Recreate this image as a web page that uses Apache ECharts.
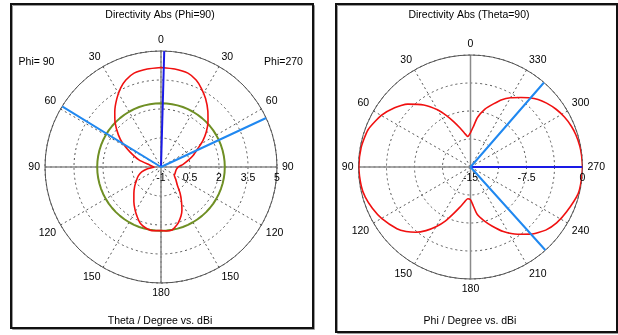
<!DOCTYPE html>
<html>
<head>
<meta charset="utf-8">
<script src="https://cdn.jsdelivr.net/npm/echarts@6/dist/echarts.min.js"></script>
<style>
  html, body { margin: 0; padding: 0; background: #fff; }
  #chart { width: 618px; height: 335px; }
</style>
</head>
<body>
<div id="chart"></div>
<script>
// ---- Elevation cut: directivity (dBi) vs theta, Phi=270 half on the right, Phi=90 half on the left
const thetaPhi270 = [0, 8, 16, 22, 27, 33, 40, 46, 52, 58, 63, 70, 76, 83, 90, 97, 104, 115, 122, 130, 138, 144, 149, 154, 158, 163, 167, 170, 175, 180];
const dirPhi270   = [4.15, 4.12, 4.05, 3.85, 3.58, 3.23, 2.77, 2.38, 1.98, 1.55, 1.16, 0.78, 0.46, 0.15, -0.11, -0.18, -0.21, -0.20, -0.19, 0.0, 0.26, 0.68, 1.05, 1.47, 1.75, 2.03, 2.2, 2.31, 2.32, 2.29];
const thetaPhi90  = [0, 8, 16, 22, 27, 33, 40, 46, 53, 58, 64, 72, 80, 90, 97, 104, 111, 118, 126, 134, 142, 149, 155, 160, 166, 173, 180];
const dirPhi90    = [4.15, 4.12, 4.05, 3.85, 3.59, 3.2, 2.72, 2.3, 1.76, 1.35, 0.79, 0.20, -0.40, -0.65, -0.30, 0.03, 0.25, 0.43, 0.68, 0.95, 1.28, 1.60, 1.88, 2.11, 2.25, 2.32, 2.29];
const meanDirectivity = 2.3;           // dBi, drawn as a full circle
const mainLobeTheta = 1.6;             // degrees
const halfPowerTheta90 = 58.5;         // degrees, Phi=90 side
const halfPowerTheta270 = 65;          // degrees, Phi=270 side
const elevMin = -1, elevMax = 5, elevStep = 1.5;

// ---- Azimuth cut: directivity (dBi) vs phi at theta = 90
const phiDeg     = [0, 5, 10, 15, 20, 25, 30, 37, 45, 52, 60, 70, 80, 90, 100, 106, 113, 120, 130, 135, 140, 145, 150, 155, 160, 165, 170, 175, 180,
                    184, 188, 194, 200, 207, 215, 222, 230, 237, 245, 256, 263, 270, 276, 281, 287, 292, 298, 304, 310, 315, 320, 324, 330, 335, 340, 346, 352, 356, 360];
const dirTheta90 = [-10.4, -10.9, -10.4, -9.6, -8.6, -7.4, -6.15, -4.6, -3.1, -2.1, -1.2, -0.4, -0.12, -0.05, -0.15, -0.34, -0.75, -1.25, -2.14, -2.8, -3.6, -4.6, -5.75, -7.0, -8.35, -9.4, -10.2, -10.74, -10.62,
                    -9.8, -8.6, -7.6, -6.6, -5.3, -4.0, -2.9, -1.85, -1.25, -0.8, -0.15, -0.05, 0, -0.04, -0.1, -0.25, -0.43, -0.75, -1.17, -1.7, -2.2, -2.9, -3.5, -4.3, -5.05, -6.0, -7.0, -8.3, -9.6, -10.4];
const azMainPhi = 270;
const azHalfPowerPhi = [222, 319];
const azMin = -15, azMax = 0, azRing = 3.75, azLabelStep = 7.5;

const FONT = 'Liberation Sans';
const fs = 10.5;
const textFont = fs + 'px "' + FONT + '"';

// elevation values are placed on a 0-based radius scale so ticks start at the axis minimum
const er = v => v - elevMin;

const redLine = [];
thetaPhi270.forEach((t, i) => redLine.push([er(dirPhi270[i]), t]));
for (let i = thetaPhi90.length - 1; i >= 0; i--) redLine.push([er(dirPhi90[i]), 360 - thetaPhi90[i]]);

const greenLine = [];
for (let a = 0; a <= 360; a += 5) greenLine.push([er(meanDirectivity), a]);

const azLine = phiDeg.map((p, i) => [dirTheta90[i], p]);

const gridDotted = { lineStyle: { color: '#555', type: [2, 3], width: 1 } };

function mainPolar(cx, cy, R) { return { center: [cx, cy], radius: R }; }

const L = { cx: 161, cy: 167, R: 116 };
const Rt = { cx: 470.5, cy: 167, R: 112 };

function frame(x, y, w, h) {
  return [
    { type: 'rect', shape: { x: x + 1.5, y: y + 1.5, width: w, height: h }, style: { fill: 'none', stroke: '#9a9a9a', lineWidth: 1 }, z: 9 },
    { type: 'rect', shape: { x: x, y: y, width: w, height: h }, style: { fill: 'none', stroke: '#111', lineWidth: 2 }, z: 10 }
  ];
}
function label(text, x, y) {
  return { type: 'text', style: { text: text, x: x, y: y, textAlign: 'center', textVerticalAlign: 'middle', font: textFont, fill: '#000' } };
}

const option = {
  backgroundColor: '#fff',
  animation: false,
  polar: [
    mainPolar(L.cx, L.cy, L.R),
    mainPolar(L.cx, L.cy, L.R),
    mainPolar(Rt.cx, Rt.cy, Rt.R),
    mainPolar(Rt.cx, Rt.cy, Rt.R)
  ],
  angleAxis: [
    { polarIndex: 0, type: 'value', min: 0, max: 360, interval: 30, startAngle: 90, clockwise: true,
      axisLine: { lineStyle: { color: '#555', width: 1 } }, axisTick: { show: false },
      axisLabel: { margin: 5, color: '#000', fontFamily: FONT, fontSize: fs,
        formatter: v => (v >= 360 ? '' : String(v <= 180 ? v : 360 - v)) },
      splitLine: gridDotted },
    { polarIndex: 1, type: 'value', min: 0, max: 360, interval: 90, startAngle: 0, clockwise: true,
      axisLine: { show: false }, axisTick: { show: false }, axisLabel: { show: false },
      splitLine: { lineStyle: { color: '#8a8a8a', width: 1.5 } } },
    { polarIndex: 2, type: 'value', min: 0, max: 360, interval: 30, startAngle: 90, clockwise: false,
      axisLine: { lineStyle: { color: '#555', width: 1 } }, axisTick: { show: false },
      axisLabel: { margin: 5, color: '#000', fontFamily: FONT, fontSize: fs,
        formatter: v => (v >= 360 ? '' : String(v)) },
      splitLine: gridDotted },
    { polarIndex: 3, type: 'value', min: 0, max: 360, interval: 90, startAngle: 0, clockwise: true,
      axisLine: { show: false }, axisTick: { show: false }, axisLabel: { show: false },
      splitLine: { lineStyle: { color: '#8a8a8a', width: 1.5 } } }
  ],
  radiusAxis: [
    { polarIndex: 0, type: 'value', min: 0, max: elevMax - elevMin, interval: elevStep,
      axisLine: { show: false }, axisTick: { show: false }, axisLabel: { show: false },
      splitLine: gridDotted },
    { polarIndex: 1, type: 'value', min: 0, max: elevMax - elevMin, interval: elevStep, z: 5,
      axisLine: { show: false }, axisTick: { show: false }, splitLine: { show: false },
      axisLabel: { color: '#000', fontFamily: FONT, fontSize: fs, margin: -11,
        align: 'center', verticalAlign: 'middle',
        formatter: v => String(Math.round((v + elevMin) * 10) / 10) } },
    { polarIndex: 2, type: 'value', min: azMin, max: azMax, interval: azRing,
      axisLine: { show: false }, axisTick: { show: false }, axisLabel: { show: false },
      splitLine: gridDotted },
    { polarIndex: 3, type: 'value', min: azMin, max: azMax, interval: azLabelStep, z: 5,
      axisLine: { show: false }, axisTick: { show: false }, splitLine: { show: false },
      axisLabel: { color: '#000', fontFamily: FONT, fontSize: fs, margin: -11,
        align: 'center', verticalAlign: 'middle',
        formatter: v => String(v) } }
  ],
  series: [
    { type: 'line', coordinateSystem: 'polar', polarIndex: 0, data: greenLine, showSymbol: false, smooth: false,
      lineStyle: { color: '#6f8f24', width: 2 }, z: 3 },
    { type: 'line', coordinateSystem: 'polar', polarIndex: 0, data: redLine, showSymbol: false, smooth: 0.2,
      lineStyle: { color: '#f01010', width: 1.6 }, z: 4 },
    { type: 'line', coordinateSystem: 'polar', polarIndex: 0, showSymbol: false,
      data: [[er(elevMin), mainLobeTheta], [er(elevMax), mainLobeTheta]],
      lineStyle: { color: '#1a1ae6', width: 2 }, z: 5 },
    { type: 'line', coordinateSystem: 'polar', polarIndex: 0, showSymbol: false,
      data: [[er(elevMax), 360 - halfPowerTheta90], [er(elevMin), 0], [er(elevMax), halfPowerTheta270]],
      lineStyle: { color: '#2088f0', width: 2 }, z: 5 },

    { type: 'line', coordinateSystem: 'polar', polarIndex: 2, data: azLine, showSymbol: false, smooth: 0.2,
      lineStyle: { color: '#f01010', width: 1.6 }, z: 4 },
    { type: 'line', coordinateSystem: 'polar', polarIndex: 2, showSymbol: false,
      data: [[azMin, azMainPhi], [azMax, azMainPhi]],
      lineStyle: { color: '#1a1ae6', width: 2 }, z: 5 },
    { type: 'line', coordinateSystem: 'polar', polarIndex: 2, showSymbol: false,
      data: [[azMax, azHalfPowerPhi[0]], [azMin, 270], [azMax, azHalfPowerPhi[1]]],
      lineStyle: { color: '#2088f0', width: 2 }, z: 5 }
  ],
  graphic: [
    ...frame(11, 4, 302, 324),
    ...frame(336, 4, 281, 328),
    label('Directivity Abs (Phi=90)', 160, 15),
    label('Theta / Degree vs. dBi', 160, 321),
    label('Phi= 90', 36.5, 62),
    label('Phi=270', 283.5, 62),
    label('Directivity Abs (Theta=90)', 469, 15.5),
    label('Phi / Degree vs. dBi', 470, 321)
  ]
};

const chart = echarts.init(document.getElementById('chart'), null, { renderer: 'canvas' });
chart.setOption(option);
</script>
</body>
</html>
